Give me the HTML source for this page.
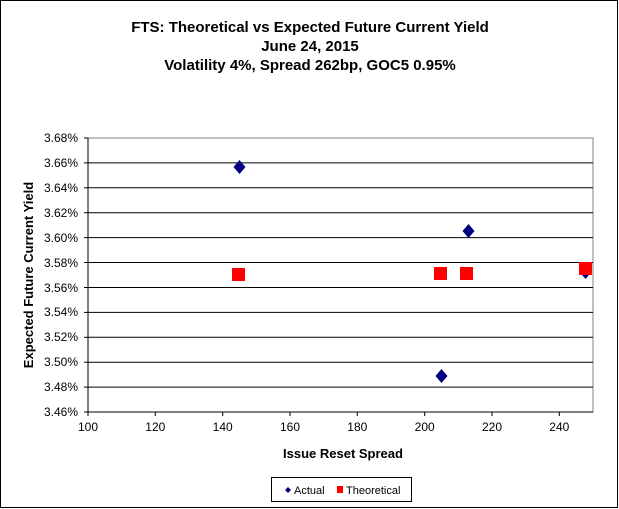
<!DOCTYPE html>
<html><head><style>body{margin:0;background:#fff}svg{display:block}</style></head><body>
<svg width="619" height="509" xmlns="http://www.w3.org/2000/svg" font-family="Liberation Sans, Arial, sans-serif">
<rect x="0.5" y="0.5" width="617" height="507" fill="#fff" stroke="#000"/>
<g font-weight="bold" font-size="15" text-anchor="middle">
<text x="310" y="32">FTS: Theoretical vs Expected Future Current Yield</text>
<text x="310" y="51">June 24, 2015</text>
<text x="310" y="70">Volatility 4%, Spread 262bp, GOC5 0.95%</text>
</g>
<rect x="88" y="138" width="505" height="274" fill="#fff" stroke="#808080"/>
<g stroke="#000" stroke-width="1">
<line x1="88" y1="162.9" x2="593" y2="162.9"/><line x1="88" y1="187.8" x2="593" y2="187.8"/>
<line x1="88" y1="212.7" x2="593" y2="212.7"/><line x1="88" y1="237.6" x2="593" y2="237.6"/>
<line x1="88" y1="262.5" x2="593" y2="262.5"/><line x1="88" y1="287.5" x2="593" y2="287.5"/>
<line x1="88" y1="312.4" x2="593" y2="312.4"/><line x1="88" y1="337.3" x2="593" y2="337.3"/>
<line x1="88" y1="362.2" x2="593" y2="362.2"/><line x1="88" y1="387.1" x2="593" y2="387.1"/>
<line x1="88" y1="412" x2="593" y2="412"/><line x1="88" y1="138" x2="88" y2="412"/>
</g>
<g stroke="#000">
<line x1="84" y1="138" x2="88" y2="138"/><line x1="84" y1="162.9" x2="88" y2="162.9"/><line x1="84" y1="187.8" x2="88" y2="187.8"/><line x1="84" y1="212.7" x2="88" y2="212.7"/><line x1="84" y1="237.6" x2="88" y2="237.6"/><line x1="84" y1="262.5" x2="88" y2="262.5"/><line x1="84" y1="287.5" x2="88" y2="287.5"/><line x1="84" y1="312.4" x2="88" y2="312.4"/><line x1="84" y1="337.3" x2="88" y2="337.3"/><line x1="84" y1="362.2" x2="88" y2="362.2"/><line x1="84" y1="387.1" x2="88" y2="387.1"/><line x1="84" y1="412" x2="88" y2="412"/>
<line x1="88" y1="412" x2="88" y2="416"/><line x1="155.3" y1="412" x2="155.3" y2="416"/><line x1="222.7" y1="412" x2="222.7" y2="416"/><line x1="290" y1="412" x2="290" y2="416"/><line x1="357.3" y1="412" x2="357.3" y2="416"/><line x1="424.7" y1="412" x2="424.7" y2="416"/><line x1="492" y1="412" x2="492" y2="416"/><line x1="559.3" y1="412" x2="559.3" y2="416"/>
</g>
<g font-size="12" text-anchor="end">
<text x="78" y="142">3.68%</text><text x="78" y="167">3.66%</text><text x="78" y="192">3.64%</text><text x="78" y="217">3.62%</text><text x="78" y="242">3.60%</text><text x="78" y="267">3.58%</text><text x="78" y="292">3.56%</text><text x="78" y="316">3.54%</text><text x="78" y="341">3.52%</text><text x="78" y="366">3.50%</text><text x="78" y="391">3.48%</text><text x="78" y="416">3.46%</text>
</g>
<g font-size="12" text-anchor="middle">
<text x="88" y="431">100</text><text x="155.3" y="431">120</text><text x="222.7" y="431">140</text><text x="290" y="431">160</text><text x="357.3" y="431">180</text><text x="424.7" y="431">200</text><text x="492" y="431">220</text><text x="559.3" y="431">240</text>
</g>
<text x="343" y="458" font-size="13" font-weight="bold" text-anchor="middle">Issue Reset Spread</text>
<text transform="translate(33,275) rotate(-90)" font-size="13" font-weight="bold" text-anchor="middle">Expected Future Current Yield</text>
<g fill="#000080">
<path d="M239.5,160l6,7-6,7-6-7z"/>
<path d="M468.5,224l6,7-6,7-6-7z"/>
<path d="M441.5,369l6,7-6,7-6-7z"/>
<path d="M585.5,265l6,7-6,7-6-7z"/>
</g>
<g fill="#ff0000">
<rect x="232" y="268" width="13" height="13"/>
<rect x="434" y="267" width="13" height="13"/>
<rect x="460" y="267" width="13" height="13"/>
<rect x="579" y="262" width="13" height="13"/>
</g>
<rect x="271.5" y="477.5" width="140" height="24" fill="#fff" stroke="#000"/>
<path d="M288,490l3,3-3,3-3-3z" transform="translate(0,-3)" fill="#000080"/>
<text x="294" y="494" font-size="11">Actual</text>
<rect x="337" y="486" width="6" height="7" fill="#ff0000"/>
<text x="346" y="494" font-size="11">Theoretical</text>
</svg>
</body></html>
